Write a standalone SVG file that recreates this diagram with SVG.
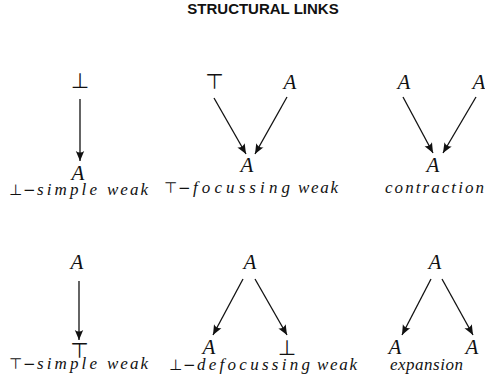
<svg xmlns="http://www.w3.org/2000/svg" width="485" height="384" viewBox="0 0 485 384">
<style>
.title{font-family:"Liberation Sans",Arial,sans-serif;font-weight:bold;font-size:15px;fill:#111;text-anchor:middle}
.A{font-family:"Liberation Serif","Times New Roman",serif;font-style:italic;font-size:21px;fill:#111;text-anchor:middle}
.sym{font-family:"DejaVu Sans",sans-serif;font-size:21px;fill:#111;text-anchor:middle}
.lsym{font-family:"DejaVu Sans",sans-serif;font-size:15px;fill:#111}
.lab{font-family:"Liberation Serif","Times New Roman",serif;font-style:italic;font-size:17px;fill:#111}
.edge{stroke:#111;stroke-width:1.3;fill:none;marker-end:url(#arr)}
</style>
<defs>
<marker id="arr" markerUnits="userSpaceOnUse" markerWidth="14" markerHeight="12" viewBox="-12 -6 14 12" refX="0" refY="0" orient="auto">
<path d="M0,0 L-10,-4.2 Q-7,0 -10,4.2 Z" fill="#111"/>
</marker>
</defs>
<rect width="485" height="384" fill="#fff"/>
<text class="title" x="263" y="14">STRUCTURAL LINKS</text>

<g id="connectors">
<line class="edge" x1="80" y1="99" x2="80" y2="161"/>
<line class="edge" x1="214" y1="98" x2="246" y2="154"/>
<line class="edge" x1="287" y1="97" x2="255" y2="154"/>
<line class="edge" x1="403" y1="97" x2="433" y2="153"/>
<line class="edge" x1="476" y1="97" x2="443" y2="153"/>
<line class="edge" x1="79" y1="281" x2="79" y2="340"/>
<line class="edge" x1="243" y1="279" x2="213" y2="335"/>
<line class="edge" x1="255" y1="279" x2="287" y2="335"/>
<line class="edge" x1="431" y1="279" x2="402" y2="335"/>
<line class="edge" x1="442" y1="279" x2="473" y2="335"/>
</g>

<g id="p1-top"><text class="sym" x="80" y="88">⊥</text></g>
<g id="p1-bottom"><text class="A" x="78" y="180">A</text></g>
<g id="p1-label">
<text class="lsym" x="9" y="195">⊥</text><text class="lsym" x="23" y="195">−</text>
<text class="lab" x="37" y="195" textLength="60" lengthAdjust="spacing">simple</text>
<text class="lab" x="107" y="195" textLength="41" lengthAdjust="spacing">weak</text>
</g>

<g id="p2-top-left"><text class="sym" x="214.5" y="89">⊤</text></g>
<g id="p2-top-right"><text class="A" x="290" y="89">A</text></g>
<g id="p2-bottom"><text class="A" x="247" y="172">A</text></g>
<g id="p2-label">
<text class="lsym" x="164" y="193">⊤</text><text class="lsym" x="178" y="193">−</text>
<text class="lab" x="193" y="193" textLength="97" lengthAdjust="spacing">focussing</text>
<text class="lab" x="298" y="193" textLength="40" lengthAdjust="spacing">weak</text>
</g>

<g id="p3-top-left"><text class="A" x="404" y="89">A</text></g>
<g id="p3-top-right"><text class="A" x="479" y="89">A</text></g>
<g id="p3-bottom"><text class="A" x="433" y="172">A</text></g>
<g id="p3-label"><text class="lab" x="385" y="193" textLength="99" lengthAdjust="spacing">contraction</text></g>

<g id="p4-top"><text class="A" x="77" y="269">A</text></g>
<g id="p4-bottom"><text class="sym" x="79.5" y="358">⊤</text></g>
<g id="p4-label">
<text class="lsym" x="9" y="369">⊤</text><text class="lsym" x="23" y="369">−</text>
<text class="lab" x="37" y="369" textLength="60" lengthAdjust="spacing">simple</text>
<text class="lab" x="107" y="369" textLength="41" lengthAdjust="spacing">weak</text>
</g>

<g id="p5-top"><text class="A" x="250" y="269">A</text></g>
<g id="p5-bottom-left"><text class="A" x="209" y="354">A</text></g>
<g id="p5-bottom-right"><text class="sym" x="287" y="355">⊥</text></g>
<g id="p5-label">
<text class="lsym" x="169" y="370">⊥</text><text class="lsym" x="183" y="370">−</text>
<text class="lab" x="197" y="370" textLength="113" lengthAdjust="spacing">defocussing</text>
<text class="lab" x="317" y="370" textLength="40" lengthAdjust="spacing">weak</text>
</g>

<g id="p6-top"><text class="A" x="435" y="269">A</text></g>
<g id="p6-bottom-left"><text class="A" x="395" y="354">A</text></g>
<g id="p6-bottom-right"><text class="A" x="472" y="354">A</text></g>
<g id="p6-label"><text class="lab" x="390" y="370" textLength="73" lengthAdjust="spacing">expansion</text></g>
</svg>
